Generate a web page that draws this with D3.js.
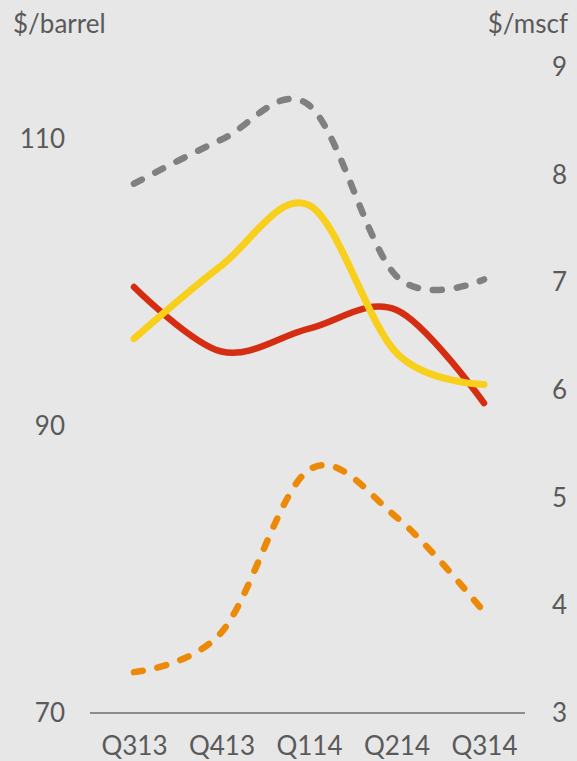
<!DOCTYPE html>
<html>
<head>
<meta charset="utf-8">
<script src="https://cdn.jsdelivr.net/npm/d3@7"></script>
<style>
  html, body { margin: 0; padding: 0; background: #e7e7e7; }
  svg { display: block; }
  text { font-family: Lato, "Open Sans", sans-serif; fill: #5a5a5a; }
</style>
</head>
<body>
<svg id="chart" width="577" height="761"></svg>
<script>
// ---- data ----
const categories = ["Q313", "Q413", "Q114", "Q214", "Q314"];
// $/barrel (left axis), solid lines
const redSeries    = [99.7, 95.2, 96.8, 98.1, 91.6];
const yellowSeries = [96.1, 101.2, 105.4, 95.1, 92.9];
// $/mscf (right axis), dashed lines
const graySeries   = [7.92, 8.33, 8.65, 7.06, 7.03];
const orangeSeries = [3.38, 3.75, 5.26, 4.82, 3.94];

const leftTicks  = [70, 90, 110];
const rightTicks = [3, 4, 5, 6, 7, 8, 9];
const leftTitle  = "$/barrel";
const rightTitle = "$/mscf";

// ---- drawing ----
const svg = d3.select("#chart");
svg.append("rect").attr("width", 577).attr("height", 761).attr("fill", "#e7e7e7");

const x = d3.scalePoint().domain(categories).range([134, 484]);
const yL = d3.scaleLinear().domain([70, 115]).range([713, 67.5]);
const yR = d3.scaleLinear().domain([3, 9]).range([713, 67.5]);

// titles
svg.append("text").attr("x", 13).attr("y", 33).attr("font-size", 26).text(leftTitle);
svg.append("text").attr("x", 568).attr("y", 33).attr("font-size", 26)
  .attr("text-anchor", "end").text(rightTitle);

// left axis labels
const gL = svg.append("g").attr("transform", "translate(65,0)")
  .call(d3.axisLeft(yL).tickValues(leftTicks).tickFormat(d3.format("d")).tickSize(0).tickPadding(0));
gL.select(".domain").remove();
gL.selectAll("text").attr("font-size", 26).attr("font-family", "Lato, sans-serif").attr("fill", "#5a5a5a");

// right axis labels (right aligned)
const gR = svg.append("g").attr("transform", "translate(567,0)")
  .call(d3.axisLeft(yR).tickValues(rightTicks).tickFormat(d3.format("d")).tickSize(0).tickPadding(0));
gR.select(".domain").remove();
gR.selectAll("text").attr("font-size", 26).attr("font-family", "Lato, sans-serif").attr("fill", "#5a5a5a");

// baseline
svg.append("line").attr("x1", 90).attr("x2", 525)
  .attr("y1", yL(70)).attr("y2", yL(70))
  .attr("stroke", "#8c8c8c").attr("stroke-width", 2);

// bottom axis labels
const gB = svg.append("g").attr("transform", `translate(0,${yL(70)})`)
  .call(d3.axisBottom(x).tickSize(0).tickPadding(24));
gB.select(".domain").remove();
gB.selectAll("text").attr("font-size", 26).attr("font-family", "Lato, sans-serif").attr("fill", "#5a5a5a");

const curve = d3.curveCardinal.tension(0);
const lineL = d3.line().x((d, i) => x(categories[i])).y(d => yL(d)).curve(curve);
const lineR = d3.line().x((d, i) => x(categories[i])).y(d => yR(d)).curve(curve);

// dashed (right axis)
svg.append("path").attr("d", lineR(graySeries))
  .attr("fill", "none").attr("stroke", "#808080").attr("stroke-width", 6.5)
  .attr("stroke-linecap", "round").attr("stroke-dasharray", "9,15");
svg.append("path").attr("d", lineR(orangeSeries))
  .attr("fill", "none").attr("stroke", "#ec8a08").attr("stroke-width", 6.5)
  .attr("stroke-linecap", "round").attr("stroke-dasharray", "9,15");

// solid (left axis)
svg.append("path").attr("d", lineL(redSeries))
  .attr("fill", "none").attr("stroke", "#d42d12").attr("stroke-width", 6.5)
  .attr("stroke-linecap", "round");
svg.append("path").attr("d", lineL(yellowSeries))
  .attr("fill", "none").attr("stroke", "#f8cf1a").attr("stroke-width", 7)
  .attr("stroke-linecap", "round");
</script>
</body>
</html>
